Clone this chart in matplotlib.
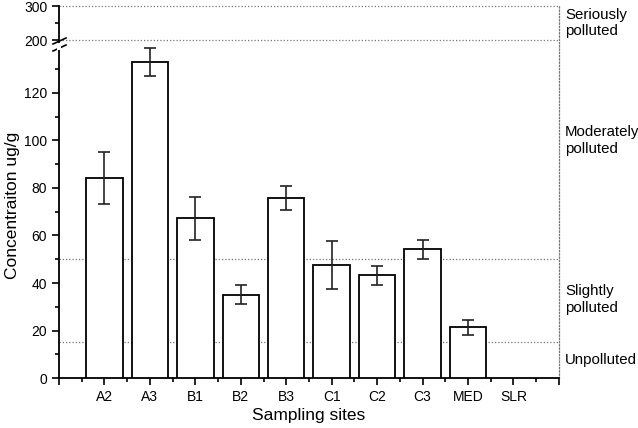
import numpy as np
import matplotlib
matplotlib.use('Agg')
import matplotlib.pyplot as plt

plt.rcParams['font.family'] = ['Liberation Sans', 'DejaVu Sans']

sites = ['A2', 'A3', 'B1', 'B2', 'B3', 'C1', 'C2', 'C3', 'MED', 'SLR']
conc = [84.3, 133.0, 67.3, 35.0, 75.8, 47.6, 43.3, 54.3, 21.3, 0.0]
err = [11.0, 6.0, 9.0, 4.0, 5.0, 10.0, 4.0, 4.0, 3.3, 0.0]
low_levels = [15, 50]
high_levels = [200, 300]
classes = ['Unpolluted', 'Slightly\npolluted', 'Moderately\npolluted', 'Seriously\npolluted']
class_pos = [7.5, 33, 100, 250]

dot = dict(color='#777777', linestyle=(0, (1, 1.6)), linewidth=0.9, zorder=1)

fig = plt.figure(figsize=(6.38, 4.28), dpi=100)
ax = fig.add_axes([0.0925, 0.1168, 0.7835, 0.7897])
ax_top = fig.add_axes([0.0925, 0.9065, 0.7835, 0.0794])

x = np.arange(1, len(sites) + 1)
has = np.array(conc) > 0
ax.bar(x[has], np.array(conc)[has], width=0.8, color='white', edgecolor='black', linewidth=1.3, zorder=3)
ax.errorbar(x[has], np.array(conc)[has], yerr=np.array(err)[has], fmt='none', ecolor='#222222',
            elinewidth=1.2, capsize=4, capthick=1.2, zorder=4)

for a in (ax, ax_top):
    a.set_xlim(0, 11)
    a.spines['right'].set_linestyle((0, (1, 1.6)))
    a.spines['right'].set_color('#777777')
    a.spines['right'].set_linewidth(0.9)
    a.spines['left'].set_linewidth(1.3)
    a.tick_params(axis='y', direction='out', length=5, width=1.2, labelsize=10)
    a.tick_params(axis='y', which='minor', direction='out', length=3, width=1.2)

ax.set_ylim(0, 142.3)
for lv in low_levels:
    ax.axhline(lv, **dot)
ax.set_yticks(np.arange(0, 121, 20))
ax.set_yticks(np.arange(10, 131, 20), minor=True)
ax.spines['top'].set_visible(False)
ax.spines['bottom'].set_linewidth(1.3)
ax.set_xticks(np.arange(0, 12))
ax.set_xticklabels([''] + sites + [''])
ax.set_xticks(np.arange(0.5, 11, 1), minor=True)
ax.tick_params(axis='x', direction='out', length=5, width=1.2, labelsize=10)
ax.tick_params(axis='x', which='minor', direction='out', length=3, width=1.2)

ax_top.set_ylim(200, 300)
for lv in high_levels:
    ax_top.axhline(lv, clip_on=False, **dot)
ax_top.set_yticks([200, 300])
ax_top.set_yticks([250], minor=True)
ax_top.set_xticks([])
ax_top.spines['bottom'].set_visible(False)
ax_top.spines['top'].set_visible(False)

# break marks on left axis
for dy in (0, 7):
    fig.lines.append(plt.Line2D([53 / 638, 66 / 638], [1 - (44 + dy) / 428, 1 - (38 + dy) / 428],
                                transform=fig.transFigure, color='black', linewidth=1.2))
fig.patches.append(plt.Rectangle((57 / 638, 1 - 50 / 428), 4 / 638, 7 / 428, transform=fig.transFigure,
                                 facecolor='white', edgecolor='none', zorder=5))

for c, p in zip(classes, class_pos):
    a = ax_top if p >= 200 else ax
    a.text(1.012, p, c, transform=a.get_yaxis_transform(), ha='left', va='center', fontsize=10.8,
           linespacing=1.25)

ax.set_xlabel('Sampling sites', fontsize=12.5, labelpad=3)
fig.text(0.02, 0.52, 'Concentraiton ug/g', rotation=90, ha='center', va='center', fontsize=12.5)

fig.savefig('out.png', dpi=100)
